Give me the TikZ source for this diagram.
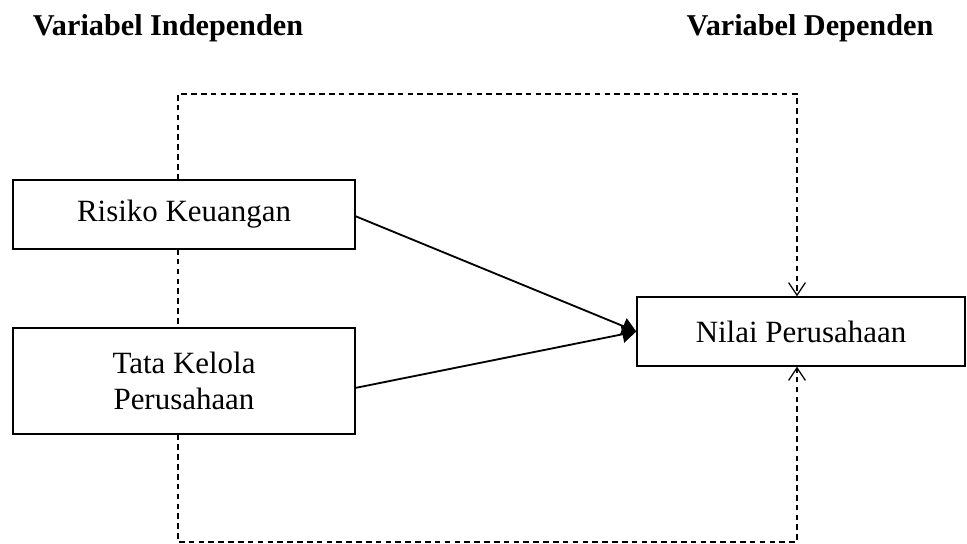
\documentclass[tikz,border=0pt]{standalone}
\usepackage{fontspec}
\setmainfont{Liberation Serif}
\usetikzlibrary{positioning,arrows.meta}
\tikzstyle{varbox}=[draw,line width=0.9pt,fill=white,align=center,inner sep=0pt,font=\fontsize{22}{26}\selectfont]
\tikzstyle{head}=[font=\fontsize{21.5}{26}\selectfont\bfseries]
\tikzstyle{link}=[dash pattern=on 4pt off 3pt,line width=1pt]

\begin{document}
\begin{tikzpicture}[x=0.025cm,y=-0.025cm,
      >={Triangle[length=10pt,width=12pt]},
      line width=1.3pt
      ]
      \useasboundingbox (0,0) rectangle (967,544);
      % headings
      \node[head] (hind) at (168,28) {Variabel Independen};
      \node[head] (hdep) at (810,28) {Variabel Dependen};
      % dashed links behind the boxes
      \coordinate (lt) at (178,94);
      \coordinate (rt) at (797,94);
      \coordinate (lb) at (178,542);
      \coordinate (rb) at (797,542);
      \draw[link] (178,249) -- (178,328);
      % boxes
      \node[varbox,minimum width=8.55cm,minimum height=1.725cm] (risk) at (184,214.5) {Risiko Keuangan};
      \node[varbox,minimum width=8.55cm,minimum height=2.65cm] (tata) at (184,381) {Tata Kelola\\Perusahaan};
      \node[varbox,minimum width=8.2cm,minimum height=1.725cm] (nilai) at (801,331.5) {Nilai Perusahaan};
      \draw[link,-{Straight Barb[length=9pt,width=12pt,line width=0.9pt]}] (risk.north -| lt) -- (lt) -- (rt) -- (nilai.north -| rt);
      \draw[link,-{Straight Barb[length=9pt,width=12pt,line width=0.9pt]}] (tata.south -| lb) -- (lb) -- (rb) -- (nilai.south -| rb);
      % effects
      \coordinate (r1) at (355,216);
      \coordinate (t1) at (355,388);
      \draw[->] (r1) -- (nilai.west);
      \draw[->] (t1) -- (nilai.west);
    \end{tikzpicture}
\end{document}
